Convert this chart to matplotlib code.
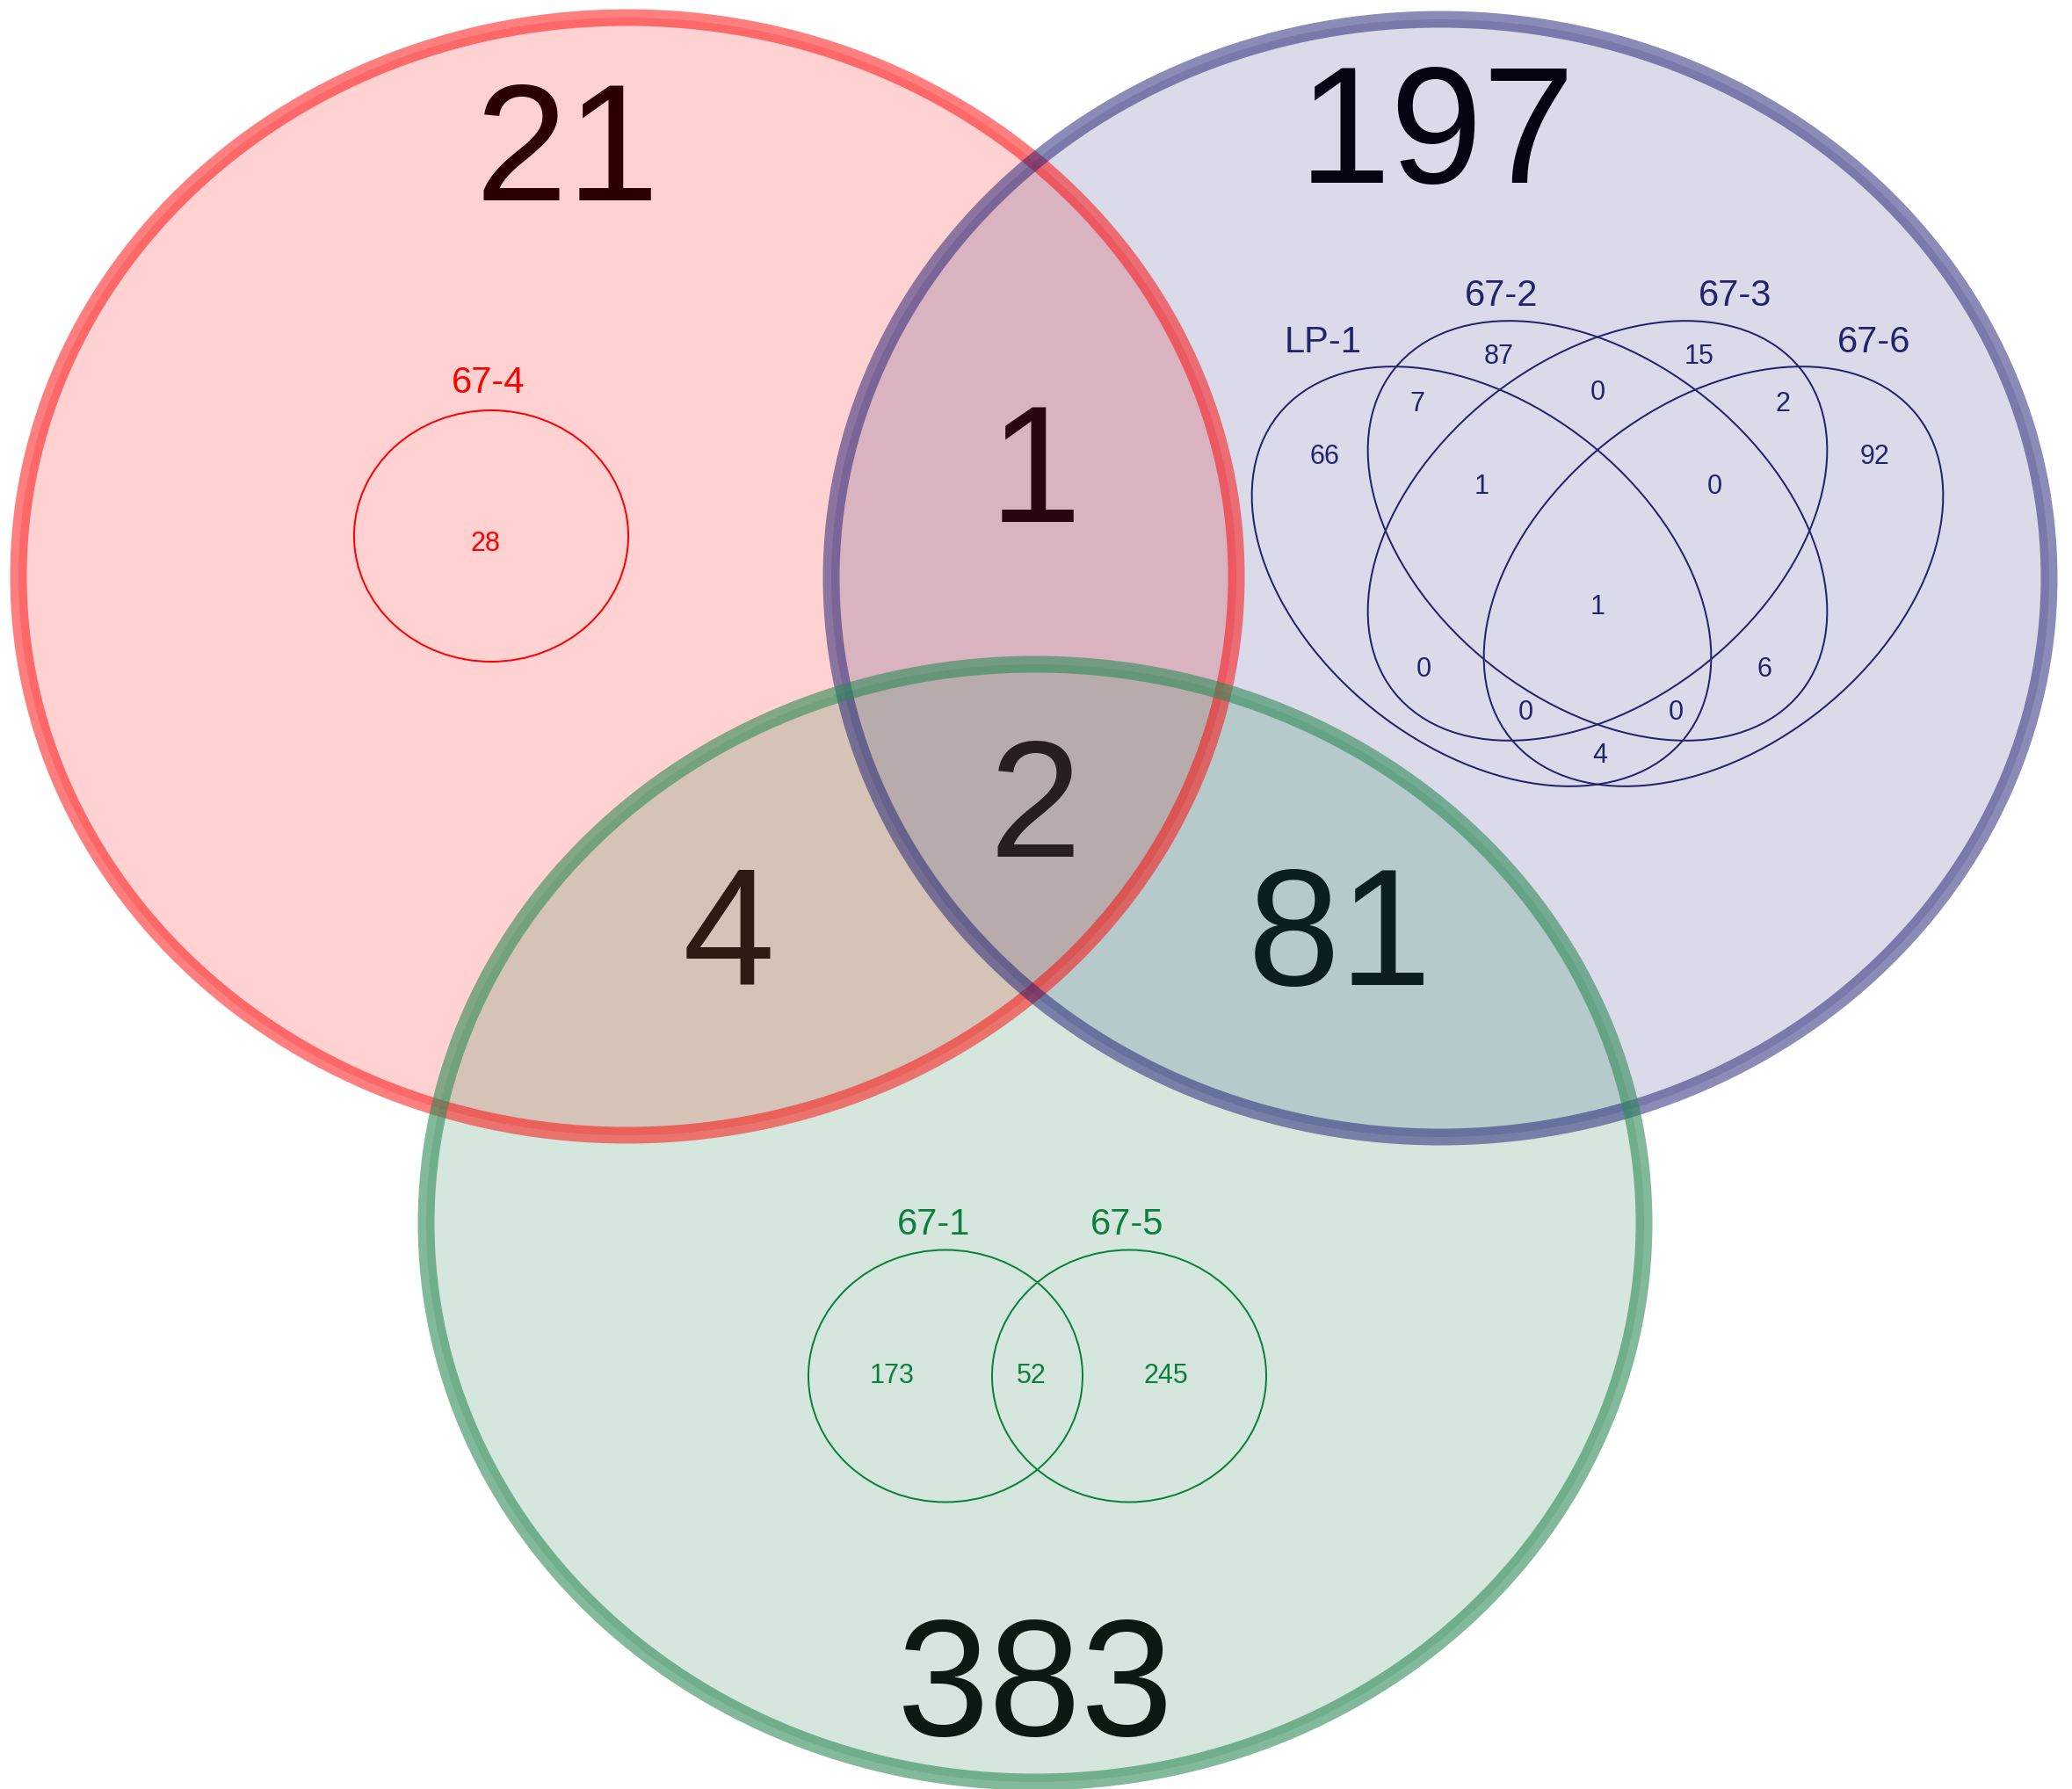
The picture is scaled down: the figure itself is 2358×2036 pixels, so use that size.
import matplotlib
matplotlib.use("Agg")
import matplotlib.pyplot as plt
from matplotlib.patches import Ellipse

plt.rcParams["font.family"] = ["Liberation Sans", "DejaVu Sans"]

# ---- data ----
main_regions = ["red", "blue", "green", "red&blue", "red&green", "blue&green", "all"]
main_counts = [21, 197, 383, 1, 4, 81, 2]

single_name = "67-4"
single_count = 28

pair_names = ["67-1", "67-5"]
pair_counts = [173, 52, 245]          # 67-1 only, both, 67-5 only

quad_names = ["LP-1", "67-2", "67-3", "67-6"]
quad_regions = ["A", "B", "C", "D", "AB", "BC", "CD", "ABC", "BCD",
                "ABCD", "AC", "BD", "ACD", "ABD", "AD"]
quad_counts = [66, 87, 15, 92, 7, 0, 2, 1, 0, 1, 0, 6, 0, 0, 4]

# ---- layout (pixels, y down) ----
W, H, DPI = 2358, 2036, 100
PT = 72 / DPI

big_centers = [(714, 656), (1639, 658), (1178, 1392)]
big_w, big_h = 1386, 1272
big_colors = ["#FF0000", "#191970", "#2E8B57"]
big_fill_alpha = [0.18, 0.16, 0.2]
big_edge_alpha = [0.5, 0.5, 0.6]
big_text_pos = [(645, 228), (1635, 208), (1178, 1975), (1178, 594),
                (829, 1120), (1525, 1121), (1178, 975)]   # x centre, baseline

quad_centers = [(1686, 656), (1818, 604), (1818, 604), (1950, 656)]
quad_angles = [38.4, 38.4, -38.4, -38.4]
quad_w, quad_h = 591, 390
quad_label_pos = [(1506, 386), (1709, 333), (1975, 333), (2133, 386)]
quad_count_pos = [(1508, 517), (1706, 403), (1934, 403), (2133, 517),
                  (1613, 457), (1818, 444), (2029, 457), (1686, 551),
                  (1951, 551), (1818, 688), (1620, 759), (2008, 759),
                  (1736, 808), (1907, 808), (1821, 857)]
navy = "#22226E"

pair_centers = [(1076, 1566), (1285, 1566)]
pair_w, pair_h = 312, 287
pair_label_pos = [(1063, 1390), (1283, 1390)]
pair_count_pos = [(1015, 1563), (1174, 1563), (1327, 1563)]
green = "#0B7F3E"

single_center = (559, 610)
single_label_pos = (556, 432)
single_count_pos = (552, 616)

fig = plt.figure(figsize=(W / DPI, H / DPI), dpi=DPI)
ax = fig.add_axes([0, 0, 1, 1])
ax.set_xlim(0, W)
ax.set_ylim(H, 0)
ax.axis("off")

BIG = 136       # pt, digit height ~135 px
LAB = 30
NUM = 22


def put(x, yc, s, size, color, z):
    # place text so that digit/cap height is centred on yc
    base = yc + 0.358 * size / PT
    ax.text(x, base, s, fontsize=size, color=color, ha="center",
            va="baseline", zorder=z)


# big numbers go under the translucent fills, like the original
for (x, y), n in zip(big_text_pos, main_counts):
    ax.text(x, y, str(n), fontsize=BIG, color="black", ha="center",
            va="baseline", zorder=1)

for (cx, cy), c, a in zip(big_centers, big_colors, big_fill_alpha):
    ax.add_patch(Ellipse((cx, cy), big_w, big_h, facecolor=c, alpha=a,
                         edgecolor="none", zorder=2))
for (cx, cy), c, a in zip(big_centers, big_colors, big_edge_alpha):
    ax.add_patch(Ellipse((cx, cy), big_w, big_h, facecolor="none",
                         edgecolor=c, alpha=a, lw=19 * PT, zorder=3))

# 67-4
ax.add_patch(Ellipse(single_center, 312, 286, fill=False, edgecolor="red",
                     lw=2 * PT, zorder=5))
put(*single_label_pos, single_name, LAB, "red", 6)
put(*single_count_pos, str(single_count), NUM, "red", 6)

# 67-1 / 67-5
for c in pair_centers:
    ax.add_patch(Ellipse(c, pair_w, pair_h, fill=False, edgecolor=green,
                         lw=2 * PT, zorder=5))
for (x, y), s in zip(pair_label_pos, pair_names):
    put(x, y, s, LAB, green, 6)
for (x, y), n in zip(pair_count_pos, pair_counts):
    put(x, y, str(n), NUM, green, 6)

# LP-1 / 67-2 / 67-3 / 67-6
for c, a in zip(quad_centers, quad_angles):
    ax.add_patch(Ellipse(c, quad_w, quad_h, angle=a, fill=False,
                         edgecolor=navy, lw=2 * PT, zorder=5))
for (x, y), s in zip(quad_label_pos, quad_names):
    put(x, y, s, LAB, navy, 6)
for (x, y), n in zip(quad_count_pos, quad_counts):
    put(x, y, str(n), NUM, navy, 6)

fig.savefig("out.png", dpi=DPI, facecolor="white")
